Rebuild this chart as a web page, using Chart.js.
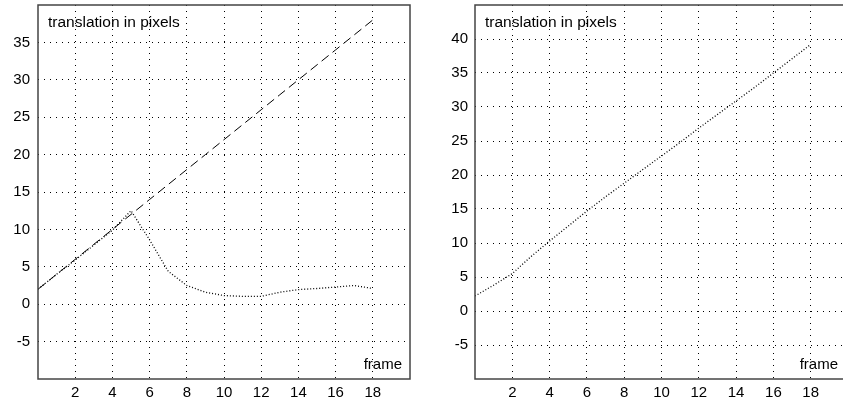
<!DOCTYPE html>
<html>
<head>
<meta charset="utf-8">
<script src="https://cdn.jsdelivr.net/npm/chart.js@4/dist/chart.umd.min.js"></script>
<style>
  html, body { margin: 0; padding: 0; background: #fff; width: 843px; height: 405px; overflow: hidden; position: relative; }
  canvas { position: absolute; top: 0; }
  #left { left: 0; }
  #right { left: 420px; }
</style>
</head>
<body>
<canvas id="left" width="420" height="405"></canvas>
<canvas id="right" width="440" height="405"></canvas>
<script>
// ---- data ----
const frames = [0,1,2,3,4,5,6,7,8,9,10,11,12,13,14,15,16,17,18];
const leftDashed = [2,4,6,8,10,12,14,16,18,20,22,24,26,28,30,32,34,36,38];
const leftDotted = [2,4,5.9,7.9,9.9,12.5,8.6,4.4,2.5,1.6,1.15,1.05,1.05,1.6,1.95,2.1,2.3,2.5,2.1];
const rightDotted = [2.2,3.8,5.5,8,10.3,12.5,14.7,16.8,18.8,20.8,22.8,24.8,26.9,28.9,30.9,32.9,35.0,37.1,39.2];
const xTicks = [2,4,6,8,10,12,14,16,18];
const leftYTicks = [-5,0,5,10,15,20,25,30,35];
const rightYTicks = [-5,0,5,10,15,20,25,30,35,40];
const yLabel = 'translation in pixels';
const xLabel = 'frame';

const FONT = 'Liberation Sans, Arial, sans-serif';
Chart.defaults.font.family = FONT;
Chart.defaults.font.size = 15;
Chart.defaults.color = '#000';

function pts(ys) { return frames.map((f, i) => ({ x: f, y: ys[i] })); }

const framePlugin = (rightPad) => ({
  id: 'frameBox',
  afterDraw(chart) {
    const { ctx, chartArea: a } = chart;
    ctx.save();
    ctx.strokeStyle = '#444';
    ctx.lineWidth = 1.5;
    ctx.strokeRect(a.left, a.top, a.right - a.left, a.bottom - a.top);
    ctx.fillStyle = '#000';
    ctx.font = '15.5px ' + FONT;
    ctx.textBaseline = 'middle';
    ctx.textAlign = 'left';
    ctx.fillText(yLabel, a.left + 10, a.top + 18);
    ctx.textAlign = 'right';
    ctx.font = '15px ' + FONT;
    ctx.fillText(xLabel, a.right - rightPad, a.bottom - 14);
    ctx.restore();
  }
});

function makeChart(id, datasets, yMax, yTicks, yWidth, padRight, yPad, labelPad) {
  return new Chart(document.getElementById(id), {
    type: 'line',
    data: { datasets },
    options: {
      responsive: false,
      animation: false,
      devicePixelRatio: 1,
      layout: { padding: { left: 0, top: 5, right: padRight, bottom: 0 } },
      plugins: { legend: { display: false }, tooltip: { enabled: false } },
      elements: { point: { radius: 0 }, line: { tension: 0 } },
      scales: {
        x: {
          type: 'linear', min: 0, max: 20,
          afterBuildTicks: s => { s.ticks = xTicks.map(v => ({ value: v })); },
          afterFit: s => { s.height = 26; s.paddingLeft = 0; s.paddingRight = 0; },
          ticks: { padding: 5 },
          grid: { color: '#000', lineWidth: 1, drawTicks: false },
          border: { display: false, dash: [1, 5] }
        },
        y: {
          type: 'linear', min: -10, max: yMax,
          afterBuildTicks: s => { s.ticks = yTicks.map(v => ({ value: v })); },
          afterFit: s => { s.width = yWidth; s.paddingTop = 0; s.paddingBottom = 0; },
          ticks: { padding: yPad },
          grid: { color: '#000', lineWidth: 1, drawTicks: false },
          border: { display: false, dash: [1, 5] }
        }
      }
    },
    plugins: [framePlugin(labelPad)]
  });
}

makeChart('left', [
  { data: pts(leftDashed), borderColor: '#000', borderWidth: 1, borderDash: [9, 5], fill: false },
  { data: pts(leftDotted), borderColor: '#000', borderWidth: 1.3, borderDash: [1, 2], fill: false }
], 40, leftYTicks, 38, 10, 8, 8);

makeChart('right', [
  { data: pts(rightDotted), borderColor: '#000', borderWidth: 1.3, borderDash: [1, 2], fill: false }
], 45, rightYTicks, 55, 12, 7, 10);
</script>
</body>
</html>
